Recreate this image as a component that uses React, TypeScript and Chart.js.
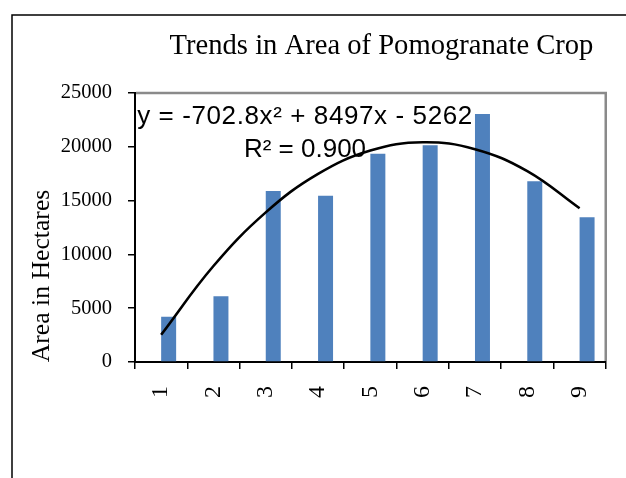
import { useEffect, useRef } from "react";
import { Chart, registerables } from "chart.js";

Chart.register(...registerables);

const CATEGORIES = ["1", "2", "3", "4", "5", "6", "7", "8", "9"];
const AREA_HECTARES = [4200, 6100, 15900, 15450, 19350, 20150, 23050, 16800, 13450];
const PLACEHOLDER_SERIES = [0, 0, 0, 0, 0, 0, 0, 0, 0];
const TREND_VALUES = [2532, 8921, 13904, 17481, 19653, 20419, 19780, 17735, 14284];
const Y_TICKS = [0, 5000, 10000, 15000, 20000, 25000];
const TITLE = "Trends in Area of Pomogranate Crop";
const Y_TITLE = "Area in Hectares";
const EQUATION_LINES = ["y = -702.8x² + 8497x - 5262", "R² = 0.900"];

const decorPlugin = {
  id: "decor",
  beforeDraw(chart: any) {
    const ctx = chart.ctx;
    ctx.save();
    ctx.fillStyle = "#ffffff";
    ctx.fillRect(0, 0, chart.width, chart.height);
    ctx.restore();
  },
  afterDraw(chart: any) {
    const ctx = chart.ctx;
    const a = chart.chartArea;
    ctx.save();
    // outer frame
    ctx.strokeStyle = "#000000";
    ctx.lineWidth = 1.5;
    ctx.beginPath();
    ctx.moveTo(12, chart.height);
    ctx.lineTo(12, 15);
    ctx.lineTo(chart.width, 15);
    ctx.stroke();
    // plot area border top/right
    ctx.strokeStyle = "#8a8a8a";
    ctx.lineWidth = 2.5;
    ctx.beginPath();
    ctx.moveTo(a.left + 1, a.top);
    ctx.lineTo(a.right, a.top);
    ctx.lineTo(a.right, a.bottom - 1);
    ctx.stroke();
    // title
    ctx.fillStyle = "#000000";
    ctx.textAlign = "center";
    ctx.textBaseline = "alphabetic";
    ctx.font = '28.6px "Liberation Serif"';
    ctx.fillText(TITLE, 381.5, 54);
    // y axis title
    ctx.save();
    ctx.translate(42, 276);
    ctx.rotate(-Math.PI / 2);
    ctx.font = '25.7px "Liberation Serif"';
    ctx.textBaseline = "middle";
    ctx.fillText(Y_TITLE, 0, 0);
    ctx.restore();
    // trendline equation
    ctx.font = '26px "Liberation Sans"';
    ctx.textBaseline = "alphabetic";
    (ctx as any).letterSpacing = "0.6px";
    ctx.fillText(EQUATION_LINES[0], 305, 124);
    (ctx as any).letterSpacing = "0px";
    ctx.fillText(EQUATION_LINES[1], 305, 157);
    ctx.restore();
  },
};

export default function App() {
  const canvasRef = useRef<HTMLCanvasElement | null>(null);

  useEffect(() => {
    if (!canvasRef.current) return;
    const chart = new Chart(canvasRef.current, {
      type: "bar",
      data: {
        labels: CATEGORIES,
        datasets: [
          {
            type: "line",
            label: "Poly. (Area)",
            data: TREND_VALUES,
            borderColor: "#000000",
            borderWidth: 2.6,
            pointRadius: 0,
            tension: 0.4,
            fill: false,
            order: 0,
          } as any,
          {
            label: "Series",
            data: PLACEHOLDER_SERIES,
            backgroundColor: "rgba(0,0,0,0)",
            categoryPercentage: 0.573,
            barPercentage: 1,
            order: 1,
          },
          {
            label: "Area in Hectares",
            data: AREA_HECTARES,
            backgroundColor: "#4f81bd",
            borderWidth: 0,
            categoryPercentage: 0.573,
            barPercentage: 1,
            order: 2,
          },
        ],
      },
      options: {
        animation: false,
        responsive: false,
        devicePixelRatio: 1,
        layout: { padding: { left: 0, top: 93, right: 11, bottom: 0 } },
        plugins: {
          legend: { display: false },
          title: { display: false },
          tooltip: { enabled: false },
        },
        scales: {
          x: {
            offset: true,
            grid: {
              offset: true,
              drawOnChartArea: false,
              drawTicks: true,
              tickLength: 7,
              color: "#000000",
              lineWidth: 1.5,
            },
            border: { display: true, color: "#000000", width: 2 },
            ticks: {
              minRotation: 90,
              maxRotation: 90,
              padding: 17,
              color: "#000000",
              font: { family: '"Liberation Serif"', size: 24 },
            },
            afterFit(scale: any) {
              scale.height = 116;
            },
          },
          y: {
            min: 0,
            max: 25000,
            grid: {
              drawOnChartArea: false,
              drawTicks: true,
              tickLength: 7,
              color: "#000000",
              lineWidth: 1.5,
            },
            border: { display: true, color: "#000000", width: 2 },
            ticks: {
              padding: 16,
              color: "#000000",
              font: { family: '"Liberation Serif"', size: 20.5 },
              callback: (v: any) => String(v),
            },
            afterBuildTicks(scale: any) {
              scale.ticks = Y_TICKS.map((v) => ({ value: v }));
            },
            afterFit(scale: any) {
              scale.width = 135;
            },
          },
        },
      },
      plugins: [decorPlugin],
    });
    return () => chart.destroy();
  }, []);

  return (
    <div style={{ position: "fixed", left: 0, top: 0, width: 626, height: 478, background: "#fff" }}>
      <canvas ref={canvasRef} width={626} height={478} style={{ display: "block" }} />
    </div>
  );
}
